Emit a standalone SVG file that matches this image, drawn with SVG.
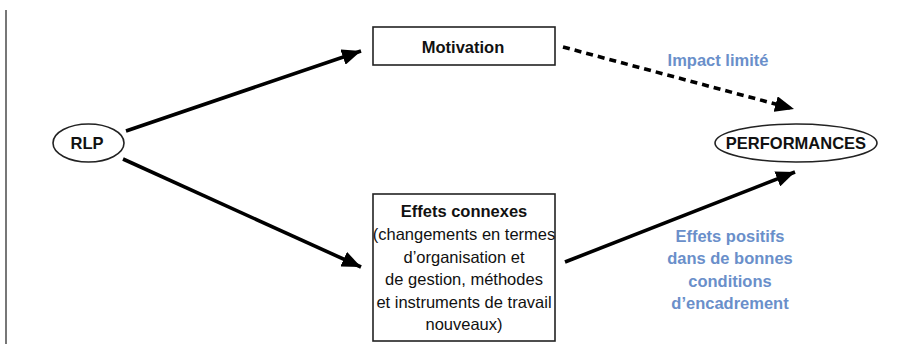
<svg xmlns="http://www.w3.org/2000/svg" width="907" height="344" viewBox="0 0 907 344">
<style>
text{font-family:"Liberation Sans",Arial,sans-serif;font-size:16.5px;fill:#111;text-anchor:middle}
.b{font-weight:bold}
.blue{fill:#6a8fca;font-weight:bold}
.shape{fill:#fff;stroke:#222;stroke-width:1.6}
.conn{stroke:#000;stroke-width:3.6;fill:none}
.dash{stroke-dasharray:7 5}
</style>
<defs>
<marker id="ah" markerUnits="userSpaceOnUse" markerWidth="20" markerHeight="16" refX="19" refY="8" orient="auto">
<path d="M0,0 L19,8 L0,16 z" fill="#000"/>
</marker>
</defs>
<line x1="6" y1="10" x2="6" y2="344" stroke="#555" stroke-width="1.6"/>
<g id="connectors">
<line class="conn" x1="126" y1="131" x2="361" y2="51" marker-end="url(#ah)"/>
<line class="conn" x1="123" y1="159" x2="361" y2="267" marker-end="url(#ah)"/>
<line class="conn dash" x1="563" y1="47" x2="794" y2="109" marker-end="url(#ah)"/>
<line class="conn" x1="565" y1="262" x2="795" y2="172" marker-end="url(#ah)"/>
</g>
<g id="rlp">
<ellipse class="shape" cx="88.5" cy="143" rx="35.5" ry="19"/>
<text class="b" x="87" y="149">RLP</text>
</g>
<g id="motivation">
<rect class="shape" x="373" y="27" width="182" height="38"/>
<text class="b" x="463" y="53">Motivation</text>
</g>
<g id="performances">
<ellipse class="shape" cx="796" cy="143" rx="81" ry="19"/>
<text class="b" x="796" y="149">PERFORMANCES</text>
</g>
<g id="effets">
<rect class="shape" x="373" y="194" width="182" height="147"/>
<text class="b" x="464" y="217">Effets connexes</text>
<text x="464" y="240">(changements en termes</text>
<text x="464" y="262.5">d’organisation et</text>
<text x="464" y="285">de gestion, méthodes</text>
<text x="464" y="307.5">et instruments de travail</text>
<text x="464" y="330">nouveaux)</text>
</g>
<g id="label-impact">
<text class="blue" x="718" y="66">Impact limité</text>
</g>
<g id="label-effets">
<text class="blue" x="730" y="241.5">Effets positifs</text>
<text class="blue" x="730" y="264">dans de bonnes</text>
<text class="blue" x="730" y="286.5">conditions</text>
<text class="blue" x="730" y="309">d’encadrement</text>
</g>
</svg>
